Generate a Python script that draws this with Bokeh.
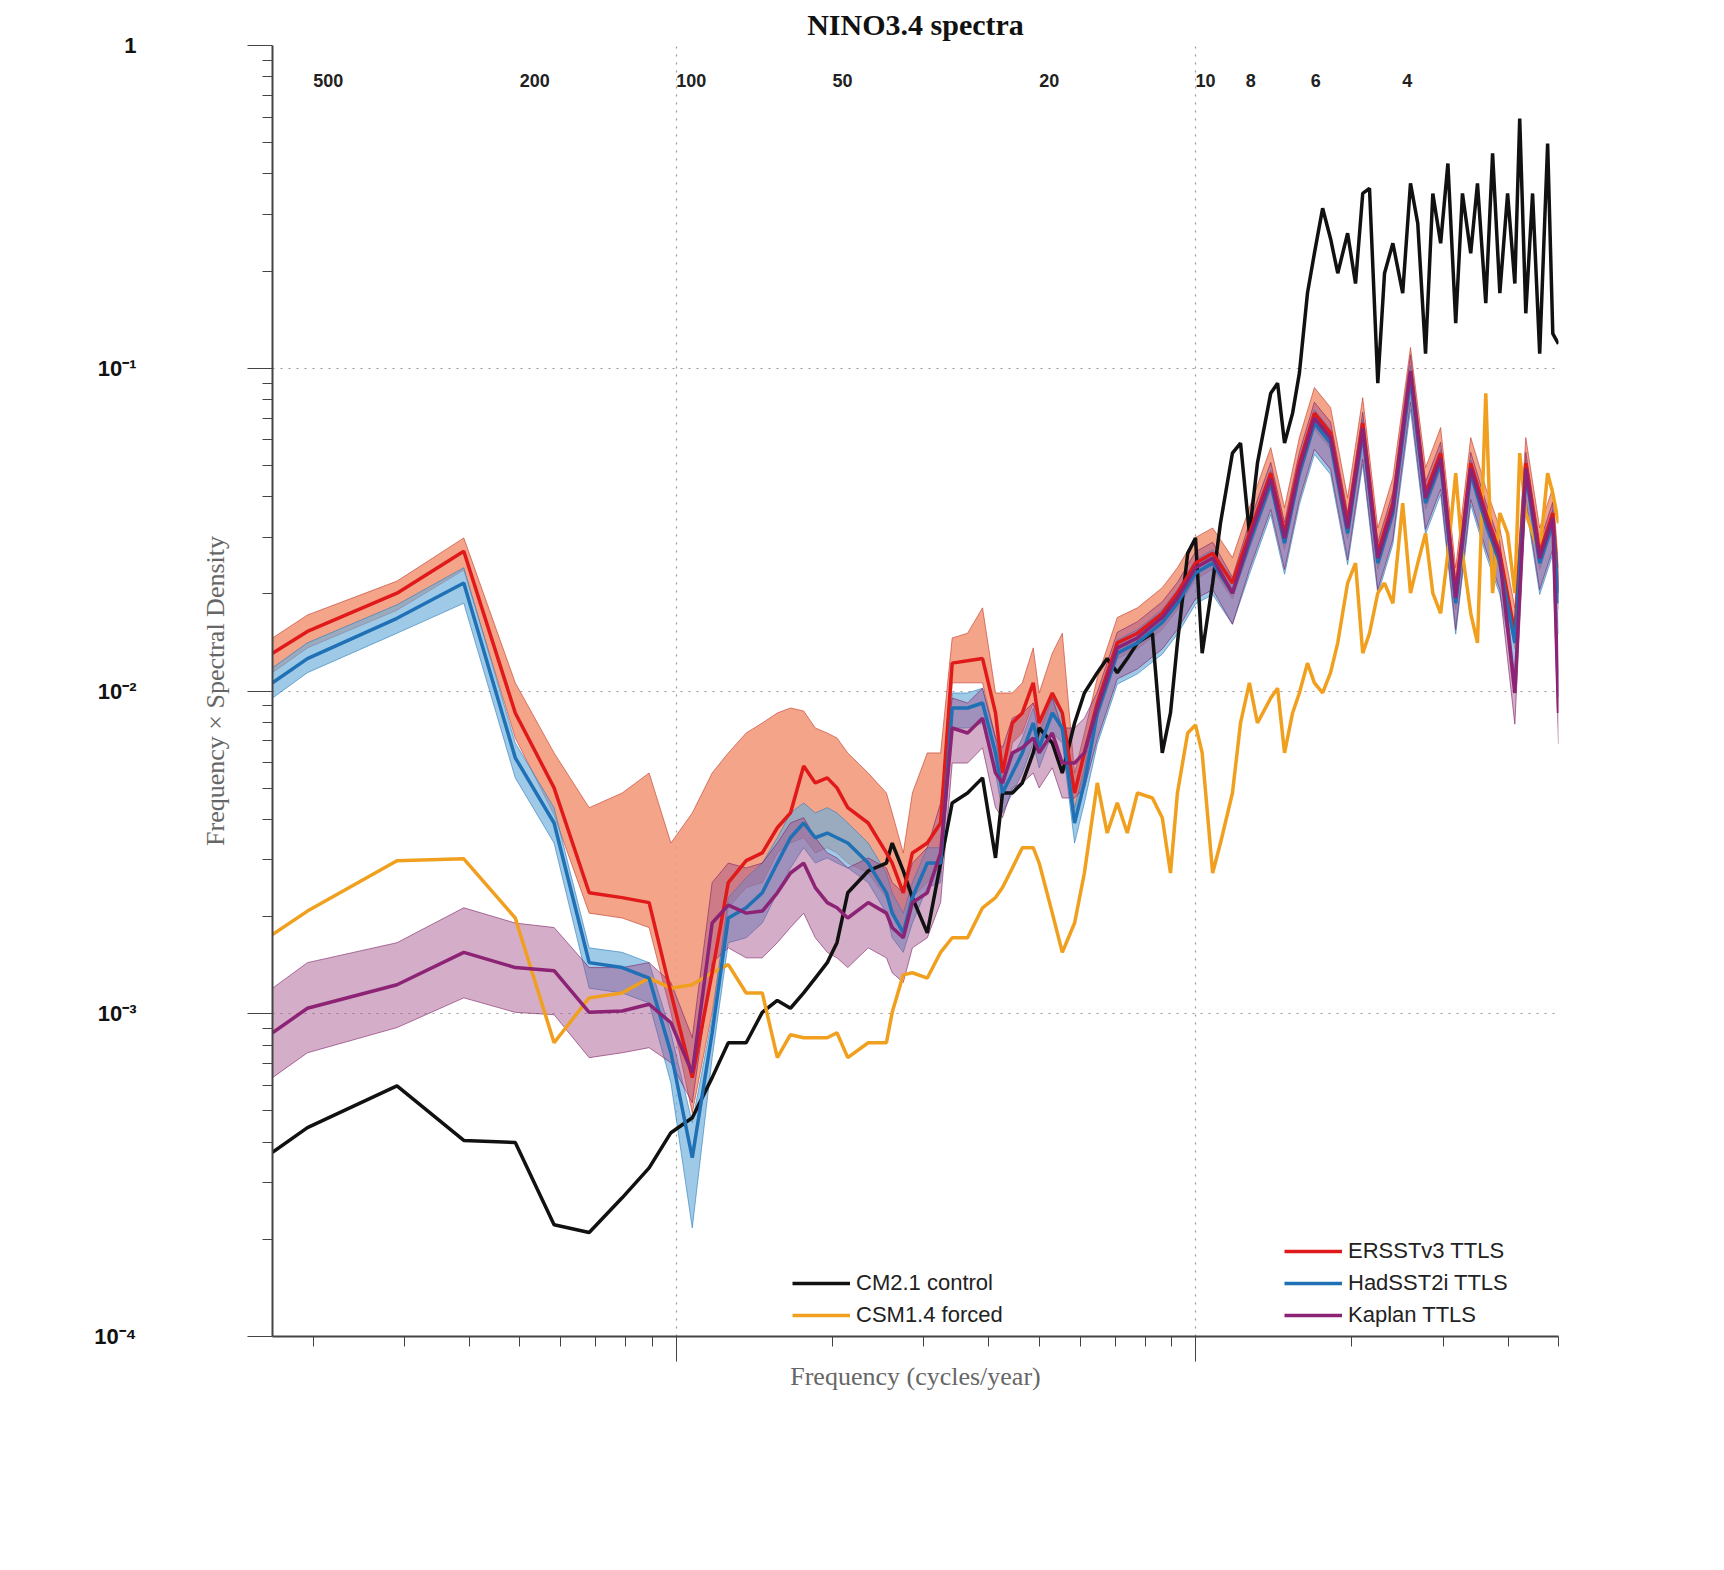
import numpy as np
from bokeh.plotting import figure
from bokeh.models import (FixedTicker, CustomJSTickFormatter, Legend, LegendItem, Range1d, LogAxis)
from bokeh.core.properties import value
from bokeh.embed import file_html
from bokeh.resources import INLINE

# ---------------- data ----------------
# model frequency grid (cycles/year)
freq_model = [0.00167, 0.00195, 0.0029, 0.0039, 0.0049, 0.00582, 0.0068, 0.00787, 0.00887, 0.00977,
              0.01074, 0.01173, 0.0126, 0.01364, 0.01465, 0.01566, 0.0166, 0.0176, 0.01853, 0.01954,
              0.0204, 0.0214, 0.02343, 0.0254, 0.02606, 0.02737, 0.0285, 0.03045, 0.0323, 0.034,
              0.0364, 0.0389, 0.0412, 0.0425, 0.0444, 0.0464, 0.0487, 0.05, 0.053, 0.0554,
              0.0585, 0.0611, 0.0647, 0.0676, 0.0707, 0.0739, 0.0773, 0.0826, 0.0863, 0.0895,
              0.0923, 0.0966, 0.1, 0.103, 0.1079, 0.1117, 0.1178, 0.1221, 0.127, 0.1316,
              0.1396, 0.1439, 0.1484, 0.1538, 0.1585, 0.1643, 0.1694, 0.1757, 0.182, 0.1879,
              0.1963, 0.2033, 0.2099, 0.2163, 0.2244, 0.2312, 0.2399, 0.2506, 0.2594, 0.2679,
              0.2773, 0.2864, 0.2965, 0.3062, 0.317, 0.3266, 0.3388, 0.3491, 0.3622, 0.3733,
              0.3855, 0.399, 0.412, 0.421, 0.4325, 0.4457, 0.46, 0.4765, 0.4875, 0.5]

cm21_control = [3.72e-4, 4.44e-4, 5.98e-4, 4.05e-4, 3.99e-4, 2.22e-4, 2.10e-4, 2.69e-4, 3.33e-4, 4.28e-4,
                4.76e-4, 6.34e-4, 8.13e-4, 8.13e-4, 1.01e-3, 1.10e-3, 1.04e-3, 1.16e-3, 1.29e-3, 1.44e-3,
                1.66e-3, 2.37e-3, 2.77e-3, 2.93e-3, 3.38e-3, 2.77e-3, 2.29e-3, 1.78e-3, 2.93e-3, 4.50e-3,
                4.83e-3, 5.38e-3, 3.04e-3, 4.83e-3, 4.83e-3, 5.19e-3, 6.43e-3, 7.68e-3, 6.90e-3, 5.57e-3,
                7.96e-3, 9.86e-3, 1.14e-2, 1.26e-2, 1.14e-2, 1.26e-2, 1.41e-2, 1.51e-2, 6.43e-3, 8.55e-3,
                1.41e-2, 2.67e-2, 2.98e-2, 1.31e-2, 2.16e-2, 3.31e-2, 5.46e-2, 5.86e-2, 3.08e-2, 5.08e-2,
                8.37e-2, 8.99e-2, 5.86e-2, 7.26e-2, 9.66e-2, 0.171, 0.227, 0.313, 0.252, 0.197,
                0.262, 0.183, 0.348, 0.361, 0.0899, 0.197, 0.244, 0.171, 0.374, 0.281,
                0.111, 0.348, 0.244, 0.431, 0.138, 0.348, 0.227, 0.374, 0.159, 0.463,
                0.171, 0.348, 0.183, 0.594, 0.148, 0.348, 0.111, 0.497, 0.128, 0.119]

csm14_forced = [1.76e-3, 2.08e-3, 2.98e-3, 3.02e-3, 1.98e-3, 8.13e-4, 1.12e-3, 1.16e-3, 1.29e-3, 1.20e-3,
                1.23e-3, 1.34e-3, 1.42e-3, 1.16e-3, 1.16e-3, 7.31e-4, 8.61e-4, 8.43e-4, 8.43e-4, 8.43e-4,
                8.73e-4, 7.31e-4, 8.13e-4, 8.13e-4, 1.01e-3, 1.32e-3, 1.34e-3, 1.29e-3, 1.55e-3, 1.72e-3,
                1.72e-3, 2.13e-3, 2.29e-3, 2.46e-3, 2.83e-3, 3.27e-3, 3.27e-3, 2.93e-3, 2.05e-3, 1.55e-3,
                1.91e-3, 2.73e-3, 5.19e-3, 3.63e-3, 4.50e-3, 3.63e-3, 4.83e-3, 4.66e-3, 4.05e-3, 2.73e-3,
                4.83e-3, 7.41e-3, 7.85e-3, 6.43e-3, 2.73e-3, 3.38e-3, 4.83e-3, 7.96e-3, 1.06e-2, 7.96e-3,
                9.51e-3, 1.02e-2, 6.43e-3, 8.55e-3, 9.86e-3, 1.22e-2, 1.06e-2, 9.86e-3, 1.14e-2, 1.41e-2,
                2.16e-2, 2.49e-2, 1.31e-2, 1.51e-2, 2.01e-2, 2.16e-2, 1.87e-2, 3.82e-2, 2.01e-2, 2.49e-2,
                3.08e-2, 2.01e-2, 1.74e-2, 2.67e-2, 4.73e-2, 2.67e-2, 1.74e-2, 1.41e-2, 8.37e-2, 2.01e-2,
                3.56e-2, 3.08e-2, 2.01e-2, 5.46e-2, 3.56e-2, 3.08e-2, 2.67e-2, 4.73e-2, 4.10e-2, 3.31e-2]

# observational frequency grid (cycles/year)
freq_obs = [0.00167, 0.00195, 0.0029, 0.0039, 0.0049, 0.00582, 0.0068, 0.00787, 0.00887, 0.00977,
            0.01074, 0.01173, 0.0126, 0.01364, 0.01465, 0.01566, 0.0166, 0.0176, 0.01853, 0.01954,
            0.0204, 0.0214, 0.02343, 0.0254, 0.02606, 0.02737, 0.0285, 0.03045, 0.0323, 0.034,
            0.0364, 0.0389, 0.0412, 0.0425, 0.0444, 0.0464, 0.0487, 0.05, 0.053, 0.0554,
            0.0585, 0.0611,
            0.0647, 0.0707, 0.0773, 0.0863, 0.0923, 0.1, 0.1079, 0.1178, 0.127, 0.1396,
            0.1484, 0.1585, 0.1694, 0.182, 0.1963, 0.2099, 0.2244, 0.2399, 0.2594, 0.2773,
            0.2965, 0.317, 0.3388, 0.3622, 0.3855, 0.412, 0.4325, 0.46, 0.4875, 0.5]

ersst = [1.31e-2, 1.53e-2, 2.01e-2, 2.71e-2, 8.55e-3, 5.01e-3, 2.37e-3, 2.29e-3, 2.21e-3, 1.16e-3,
         6.34e-4, 1.34e-3, 2.55e-3, 2.98e-3, 3.15e-3, 3.77e-3, 4.19e-3, 5.86e-3, 5.19e-3, 5.38e-3,
         5.01e-3, 4.35e-3, 3.90e-3, 3.15e-3, 2.93e-3, 2.37e-3, 3.15e-3, 3.38e-3, 3.90e-3, 1.22e-2,
         1.24e-2, 1.26e-2, 8.55e-3, 5.57e-3, 7.96e-3, 8.55e-3, 1.06e-2, 7.96e-3, 9.86e-3, 8.55e-3,
         4.83e-3, 6.43e-3,
         9.18e-3, 1.41e-2, 1.51e-2, 1.74e-2, 2.01e-2, 2.49e-2, 2.67e-2, 2.16e-2, 3.08e-2, 4.73e-2,
         3.08e-2, 5.08e-2, 7.26e-2, 6.30e-2, 3.31e-2, 6.76e-2, 2.67e-2, 3.82e-2, 9.66e-2, 4.10e-2,
         5.46e-2, 2.01e-2, 5.08e-2, 3.56e-2, 2.67e-2, 1.51e-2, 5.08e-2, 2.67e-2, 3.56e-2, 2.01e-2]
ersst_hi = [1.46e-2, 1.72e-2, 2.19e-2, 2.98e-2, 1.06e-2, 6.43e-3, 4.35e-3, 4.83e-3, 5.57e-3, 3.38e-3,
            4.19e-3, 5.57e-3, 6.43e-3, 7.41e-3, 7.96e-3, 8.55e-3, 8.86e-3, 8.67e-3, 7.68e-3, 7.41e-3,
            7.15e-3, 6.43e-3, 5.57e-3, 4.83e-3, 4.19e-3, 3.15e-3, 4.83e-3, 6.43e-3, 6.43e-3, 1.46e-2,
            1.51e-2, 1.81e-2, 9.86e-3, 9.86e-3, 9.86e-3, 1.06e-2, 1.36e-2, 9.86e-3, 1.31e-2, 1.51e-2,
            5.57e-3, 7.41e-3,
            1.10e-2, 1.69e-2, 1.81e-2, 2.09e-2, 2.41e-2, 2.99e-2, 3.20e-2, 2.59e-2, 3.70e-2, 5.68e-2,
            3.70e-2, 6.10e-2, 8.71e-2, 7.56e-2, 3.97e-2, 8.11e-2, 3.20e-2, 4.58e-2, 0.116, 4.92e-2,
            6.55e-2, 2.41e-2, 6.10e-2, 4.27e-2, 3.20e-2, 1.81e-2, 6.10e-2, 3.20e-2, 4.27e-2, 2.41e-2]
ersst_lo = [1.14e-2, 1.36e-2, 1.78e-2, 2.37e-2, 7.15e-3, 4.13e-3, 2.05e-3, 1.98e-3, 1.85e-3, 1.01e-3,
            4.93e-4, 1.01e-3, 2.13e-3, 2.46e-3, 2.55e-3, 3.15e-3, 3.38e-3, 3.51e-3, 3.15e-3, 3.27e-3,
            3.15e-3, 2.93e-3, 2.73e-3, 2.29e-3, 2.13e-3, 1.78e-3, 2.29e-3, 2.55e-3, 2.93e-3, 1.06e-2,
            1.06e-2, 1.06e-2, 7.15e-3, 4.83e-3, 6.90e-3, 7.41e-3, 9.18e-3, 6.90e-3, 8.55e-3, 7.41e-3,
            4.19e-3, 5.57e-3,
            8.20e-3, 1.26e-2, 1.35e-2, 1.55e-2, 1.79e-2, 2.22e-2, 2.38e-2, 1.93e-2, 2.75e-2, 4.22e-2,
            2.75e-2, 4.54e-2, 6.48e-2, 5.63e-2, 2.96e-2, 6.04e-2, 2.38e-2, 3.41e-2, 8.63e-2, 3.66e-2,
            4.88e-2, 1.79e-2, 4.54e-2, 3.18e-2, 2.38e-2, 1.35e-2, 4.54e-2, 2.38e-2, 3.18e-2, 1.79e-2]

hadsst = [1.06e-2, 1.26e-2, 1.68e-2, 2.16e-2, 6.21e-3, 3.90e-3, 1.44e-3, 1.39e-3, 1.29e-3, 7.57e-4,
          3.58e-4, 8.73e-4, 1.98e-3, 2.13e-3, 2.37e-3, 2.93e-3, 3.51e-3, 3.90e-3, 3.51e-3, 3.63e-3,
          3.51e-3, 3.38e-3, 2.93e-3, 2.37e-3, 2.05e-3, 1.78e-3, 2.29e-3, 2.93e-3, 2.93e-3, 8.86e-3,
          8.86e-3, 9.18e-3, 6.43e-3, 4.83e-3, 5.57e-3, 6.43e-3, 7.96e-3, 6.67e-3, 8.55e-3, 7.68e-3,
          3.90e-3, 5.19e-3,
          8.55e-3, 1.31e-2, 1.41e-2, 1.63e-2, 1.87e-2, 2.32e-2, 2.49e-2, 2.01e-2, 2.87e-2, 4.40e-2,
          2.87e-2, 4.73e-2, 6.76e-2, 5.86e-2, 3.08e-2, 6.30e-2, 2.49e-2, 3.56e-2, 9.31e-2, 3.82e-2,
          5.08e-2, 1.87e-2, 4.73e-2, 3.31e-2, 2.49e-2, 1.41e-2, 4.73e-2, 2.49e-2, 3.31e-2, 1.87e-2]
hadsst_hi = [1.18e-2, 1.41e-2, 1.85e-2, 2.41e-2, 6.90e-3, 4.35e-3, 1.60e-3, 1.55e-3, 1.44e-3, 8.73e-4,
             4.60e-4, 9.72e-4, 2.29e-3, 2.64e-3, 2.93e-3, 3.51e-3, 4.19e-3, 4.50e-3, 4.19e-3, 4.35e-3,
             4.19e-3, 3.90e-3, 3.38e-3, 2.73e-3, 2.37e-3, 2.05e-3, 2.55e-3, 3.27e-3, 3.27e-3, 9.86e-3,
             9.86e-3, 1.02e-2, 7.15e-3, 5.38e-3, 6.21e-3, 7.15e-3, 8.86e-3, 7.41e-3, 9.51e-3, 8.55e-3,
             4.35e-3, 5.78e-3,
             9.41e-3, 1.44e-2, 1.55e-2, 1.79e-2, 2.06e-2, 2.55e-2, 2.74e-2, 2.21e-2, 3.16e-2, 4.84e-2,
             3.16e-2, 5.20e-2, 7.44e-2, 6.45e-2, 3.39e-2, 6.93e-2, 2.74e-2, 3.92e-2, 0.102, 4.20e-2,
             5.59e-2, 2.06e-2, 5.20e-2, 3.64e-2, 2.74e-2, 1.55e-2, 5.20e-2, 2.74e-2, 3.64e-2, 2.06e-2]
hadsst_lo = [9.51e-3, 1.14e-2, 1.51e-2, 1.87e-2, 5.38e-3, 3.38e-3, 1.20e-3, 1.16e-3, 1.08e-3, 6.11e-4,
             2.17e-4, 7.31e-4, 1.66e-3, 1.72e-3, 1.91e-3, 2.37e-3, 2.83e-3, 3.27e-3, 2.93e-3, 3.04e-3,
             2.93e-3, 2.83e-3, 2.55e-3, 2.05e-3, 1.72e-3, 1.55e-3, 1.91e-3, 2.46e-3, 2.55e-3, 7.68e-3,
             7.68e-3, 7.96e-3, 5.57e-3, 4.19e-3, 4.83e-3, 5.57e-3, 6.90e-3, 5.78e-3, 7.41e-3, 6.90e-3,
             3.38e-3, 4.50e-3,
             6.84e-3, 1.05e-2, 1.13e-2, 1.30e-2, 1.50e-2, 1.86e-2, 1.99e-2, 1.61e-2, 2.30e-2, 3.52e-2,
             2.30e-2, 3.78e-2, 5.41e-2, 4.69e-2, 2.46e-2, 5.04e-2, 1.99e-2, 2.85e-2, 7.45e-2, 3.06e-2,
             4.06e-2, 1.50e-2, 3.78e-2, 2.65e-2, 1.99e-2, 1.13e-2, 3.78e-2, 1.99e-2, 2.65e-2, 1.50e-2]

kaplan = [8.73e-4, 1.04e-3, 1.23e-3, 1.55e-3, 1.39e-3, 1.36e-3, 1.01e-3, 1.02e-3, 1.07e-3, 9.38e-4,
          6.56e-4, 1.91e-3, 2.17e-3, 2.05e-3, 2.08e-3, 2.37e-3, 2.73e-3, 2.93e-3, 2.46e-3, 2.21e-3,
          2.13e-3, 1.98e-3, 2.21e-3, 2.05e-3, 1.85e-3, 1.72e-3, 2.21e-3, 2.37e-3, 3.15e-3, 7.68e-3,
          7.41e-3, 8.24e-3, 5.57e-3, 5.19e-3, 6.43e-3, 6.67e-3, 7.15e-3, 6.43e-3, 7.41e-3, 5.98e-3,
          5.98e-3, 6.43e-3,
          8.86e-3, 1.36e-2, 1.46e-2, 1.69e-2, 1.94e-2, 2.41e-2, 2.58e-2, 2.01e-2, 2.97e-2, 4.56e-2,
          2.97e-2, 4.90e-2, 7.01e-2, 6.08e-2, 3.19e-2, 6.53e-2, 2.58e-2, 3.69e-2, 9.80e-2, 3.96e-2,
          5.27e-2, 1.94e-2, 4.90e-2, 3.44e-2, 2.58e-2, 9.86e-3, 4.90e-2, 2.58e-2, 3.44e-2, 8.55e-3]
kaplan_hi = [1.20e-3, 1.44e-3, 1.66e-3, 2.13e-3, 1.91e-3, 1.85e-3, 1.39e-3, 1.39e-3, 1.44e-3, 1.25e-3,
             8.43e-4, 2.55e-3, 2.93e-3, 2.83e-3, 2.93e-3, 3.38e-3, 3.90e-3, 4.05e-3, 3.51e-3, 3.15e-3,
             3.04e-3, 2.83e-3, 3.04e-3, 2.83e-3, 2.55e-3, 2.37e-3, 2.93e-3, 3.27e-3, 4.50e-3, 9.51e-3,
             9.18e-3, 1.02e-2, 7.15e-3, 6.67e-3, 8.24e-3, 8.55e-3, 9.18e-3, 8.24e-3, 9.51e-3, 7.68e-3,
             7.68e-3, 8.24e-3,
             9.92e-3, 1.52e-2, 1.64e-2, 1.89e-2, 2.17e-2, 2.70e-2, 2.89e-2, 2.25e-2, 3.33e-2, 5.11e-2,
             3.33e-2, 5.49e-2, 7.85e-2, 6.81e-2, 3.57e-2, 7.31e-2, 2.89e-2, 4.13e-2, 0.110, 4.44e-2,
             5.90e-2, 2.17e-2, 5.49e-2, 3.85e-2, 2.89e-2, 1.10e-2, 5.49e-2, 2.89e-2, 3.85e-2, 9.58e-3]
kaplan_lo = [6.34e-4, 7.57e-4, 9.06e-4, 1.12e-3, 1.01e-3, 9.93e-4, 7.31e-4, 7.57e-4, 7.85e-4, 7.05e-4,
             5.30e-4, 1.44e-3, 1.60e-3, 1.49e-3, 1.49e-3, 1.66e-3, 1.85e-3, 2.05e-3, 1.72e-3, 1.55e-3,
             1.49e-3, 1.39e-3, 1.60e-3, 1.49e-3, 1.34e-3, 1.25e-3, 1.60e-3, 1.72e-3, 2.21e-3, 5.98e-3,
             5.98e-3, 6.67e-3, 4.35e-3, 4.05e-3, 5.01e-3, 5.19e-3, 5.57e-3, 5.01e-3, 5.78e-3, 4.66e-3,
             4.66e-3, 5.01e-3,
             7.09e-3, 1.09e-2, 1.17e-2, 1.35e-2, 1.55e-2, 1.93e-2, 2.06e-2, 1.61e-2, 2.38e-2, 3.65e-2,
             2.38e-2, 3.92e-2, 5.61e-2, 4.86e-2, 2.55e-2, 5.22e-2, 2.06e-2, 2.95e-2, 7.84e-2, 3.17e-2,
             4.22e-2, 1.55e-2, 3.92e-2, 2.75e-2, 2.06e-2, 7.89e-3, 3.92e-2, 2.06e-2, 2.75e-2, 6.84e-3]

period_labels = ["500", "200", "100", "50", "20", "10", "8", "6", "4"]
period_years = [500, 200, 100, 50, 20, 10, 8, 6, 4]

# ---------------- figure ----------------
p = figure(width=1700, height=1420, x_axis_type="log", y_axis_type="log",
           x_range=Range1d(0.00167, 0.5), y_range=Range1d(1e-4, 1),
           output_backend="svg", toolbar_location=None,
           min_border_left=272, min_border_right=142, min_border_top=0, min_border_bottom=84,
           title="NINO3.4 spectra")
p.title.align = "center"
p.title.text_font = "Liberation Serif"
p.title.text_font_size = "30px"
p.title.text_font_style = "bold"
p.title.text_color = "#111111"
p.title.offset = 0
p.outline_line_color = None

fx = np.array(freq_obs)

def band(lo, hi, fill, alpha, edge):
    p.varea(x=fx, y1=np.array(lo), y2=np.array(hi), fill_color=fill, fill_alpha=alpha)
    p.line(fx, np.array(lo), line_color=edge, line_width=1, line_alpha=0.6)
    p.line(fx, np.array(hi), line_color=edge, line_width=1, line_alpha=0.6)

band(ersst_lo, ersst_hi, "#f39a7c", 0.9, "#c0392b")
band(hadsst_lo, hadsst_hi, "#6aaedb", 0.65, "#2b7bba")
band(kaplan_lo, kaplan_hi, "#a04a88", 0.45, "#7d1f66")

fm = np.array(freq_model)
r_black = p.line(fm, np.array(cm21_control), line_color="#111111", line_width=3.5)
r_orange = p.line(fm, np.array(csm14_forced), line_color="#f0a01e", line_width=3.5)
r_red = p.line(fx, np.array(ersst), line_color="#e01a1a", line_width=3.5)
r_blue = p.line(fx, np.array(hadsst), line_color="#1f70b4", line_width=3.5)
r_purple = p.line(fx, np.array(kaplan), line_color="#8c2374", line_width=3.5)

# period labels along the top
p.text(x=[1.0 / v for v in period_years], y=[0.78] * len(period_years), text=period_labels,
       text_font=value("Liberation Sans"), text_font_size="18px", text_font_style="bold",
       text_align="left", text_baseline="middle", text_color="#222222")

major_y = [1e-4, 1e-3, 1e-2, 1e-1, 1]
minor_y = [m * 10.0 ** e for e in range(-4, 0) for m in range(2, 10)]

# inner left axis: ticks + axis label
ya = p.yaxis[0]
ya.ticker = FixedTicker(ticks=major_y, minor_ticks=minor_y)
ya.formatter = CustomJSTickFormatter(code="return '';")
ya.major_label_standoff = 0
ya.major_tick_out = 25
ya.major_tick_in = 0
ya.minor_tick_out = 10
ya.minor_tick_in = 0
ya.axis_line_color = "#444444"
ya.major_tick_line_color = "#444444"
ya.minor_tick_line_color = "#444444"
ya.axis_line_width = 2
ya.axis_label = "Frequency \u00d7 Spectral Density"
ya.axis_label_text_font = "Liberation Serif"
ya.axis_label_text_font_size = "26px"
ya.axis_label_text_font_style = "normal"
ya.axis_label_text_color = "#666666"
ya.axis_label_standoff = 18

# outer left axis: tick labels only
ya2 = LogAxis(ticker=FixedTicker(ticks=major_y, minor_ticks=[]))
ya2.formatter = CustomJSTickFormatter(code="""
const m = {'-4':'10\u207b\u2074','-3':'10\u207b\u00b3','-2':'10\u207b\u00b2','-1':'10\u207b\u00b9','0':'1'};
return m[String(Math.round(Math.log10(tick)))];""")
ya2.axis_line_color = None
ya2.major_tick_line_color = None
ya2.minor_tick_line_color = None
ya2.major_label_text_font = "Liberation Sans"
ya2.major_label_text_font_size = "22px"
ya2.major_label_text_font_style = "bold"
ya2.major_label_text_color = "#111111"
ya2.major_label_standoff = 55
p.add_layout(ya2, "left")

xa = p.xaxis[0]
xa.ticker = FixedTicker(ticks=[0.01, 0.1],
                        minor_ticks=[m * 10.0 ** e for e in range(-3, 0) for m in range(2, 10)])
xa.formatter = CustomJSTickFormatter(code="return '';")
xa.major_tick_out = 25
xa.major_tick_in = 0
xa.minor_tick_out = 10
xa.minor_tick_in = 0
xa.axis_line_color = "#444444"
xa.major_tick_line_color = "#444444"
xa.minor_tick_line_color = "#444444"
xa.axis_line_width = 2
xa.axis_label = "Frequency (cycles/year)"
xa.axis_label_text_font = "Liberation Serif"
xa.axis_label_text_font_size = "26px"
xa.axis_label_text_font_style = "normal"
xa.axis_label_text_color = "#666666"
xa.axis_label_standoff = 0

for g in (p.xgrid[0], p.ygrid[0]):
    g.grid_line_dash = "2 6"
    g.grid_line_color = "#999999"
    g.grid_line_width = 1.2

leg1 = Legend(items=[LegendItem(label="CM2.1 control", renderers=[r_black]),
                     LegendItem(label="CSM1.4 forced", renderers=[r_orange])],
              location=(520, 8))
leg2 = Legend(items=[LegendItem(label="ERSSTv3 TTLS", renderers=[r_red]),
                     LegendItem(label="HadSST2i TTLS", renderers=[r_blue]),
                     LegendItem(label="Kaplan TTLS", renderers=[r_purple])],
              location=(1012, 8))
for lg in (leg1, leg2):
    lg.border_line_color = None
    lg.background_fill_alpha = 0
    lg.label_text_font = "Liberation Sans"
    lg.label_text_font_size = "22px"
    lg.label_text_color = "#222222"
    lg.glyph_width = 58
    lg.glyph_height = 24
    lg.spacing = 6
    lg.padding = 4
    lg.label_standoff = 6
    p.add_layout(lg)

open("out.html", "w").write(file_html(p, INLINE))
